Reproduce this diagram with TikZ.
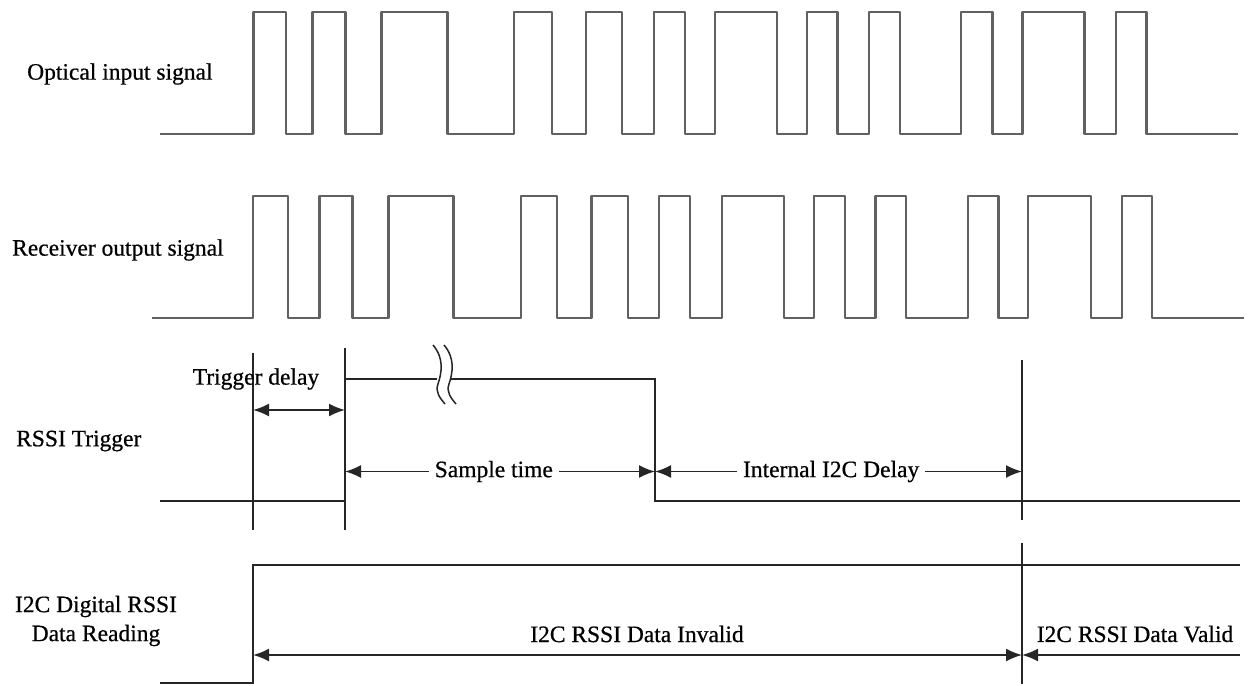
\documentclass[tikz,border=0pt]{standalone}
\usepackage{fontspec}
\setmainfont{Liberation Serif}[FakeBold=0.6]
\usetikzlibrary{arrows.meta}
\begin{document}
\begin{tikzpicture}[x=1pt,y=-1pt,
  wave/.style={draw=black!62, line width=2.4pt, line join=round},
  trig/.style={draw=black!85, line width=1.8pt},
  marker/.style={draw=black!85, line width=1.8pt},
  dim/.style={draw=black!85, line width=1.8pt, {Latex[length=16pt,width=13pt]}-{Latex[length=16pt,width=13pt]}},
  dimr/.style={draw=black!85, line width=1.8pt, -{Latex[length=16pt,width=13pt]}},
  lab/.style={font=\fontsize{23.5}{27}\selectfont, inner sep=0pt, text=black},
  gaplab/.style={font=\fontsize{23.5}{27}\selectfont, fill=white, inner xsep=6pt, inner ysep=2pt, text=black}
]
\useasboundingbox[fill=white] (0,0) rectangle (1249,685);

% labels
\node[lab, anchor=west] (lopt) at (27,74) {Optical input signal};
\node[lab, anchor=west] (lrec) at (12,250) {Receiver output signal};
\node[lab, anchor=west] (ltrg) at (16,441) {RSSI Trigger};
\node[lab, align=center] (li2c) at (96,621) {I2C Digital RSSI\\[2pt]Data Reading};

% optical input signal
\draw[wave] (160,134) -| (253.5,12) -| (286,134) -| (312.5,12) -| (345.5,134)
  -| (381.5,12) -| (447.5,134) -| (514,12) -| (552,134) -| (586,12) -| (622,134)
  -| (654,12) -| (685,134) -| (715,12) -| (777,134) -| (807,12) -| (837.5,134)
  -| (869,12) -| (900,134) -| (961,12) -| (992.5,134) -| (1022.5,12) -| (1084.5,134)
  -| (1116,12) -| (1146.5,134) -- (1238,134);

% receiver output signal
\draw[wave] (152,318) -| (253,196) -| (288,318) -| (319.5,196) -| (352.5,318)
  -| (388.5,196) -| (453.5,318) -| (521,196) -| (557,318) -| (591.5,196) -| (628,318)
  -| (659,196) -| (690,318) -| (722,196) -| (784,318) -| (814,196) -| (845,318)
  -| (875.5,196) -| (906,318) -| (968,196) -| (998.5,318) -| (1028,196) -| (1091,318)
  -| (1122,196) -| (1152,318) -- (1244,318);

% marker coordinates
\coordinate (m1t) at (253,353);  \coordinate (m1b) at (253,530);
\coordinate (m2t) at (345,348);  \coordinate (m2b) at (345,530);
\coordinate (m3t) at (1022,360); \coordinate (m3b) at (1022,520);
\coordinate (m4t) at (1022,543); \coordinate (m4b) at (1022,684);

% RSSI trigger waveform
\draw[trig] (160,501) -| (345,379) -- (437,379);
\draw[trig] (451,379) -| (655,501) -- (1240,501);
% break symbol
\draw[trig, line width=1.5pt] (433,345) .. controls (444,358) and (442,372) .. (438,384) .. controls (435,392) and (440,398) .. (445,404);
\draw[trig, line width=1.5pt] (444,345) .. controls (455,358) and (453,372) .. (449,384) .. controls (446,392) and (451,398) .. (456,404);

% vertical markers
\draw[marker] (m1t) -- (m1b);
\draw[marker] (m2t) -- (m2b);
\draw[marker] (m3t) -- (m3b);
\draw[marker] (m4t) -- (m4b);

% trigger delay
\node[lab] (ltd) at (256,379) {Trigger delay};
\coordinate (td1) at (253,410); \coordinate (td2) at (345,410);
\draw[dim] (td1) -- (td2);

% sample time / internal delay
\coordinate (st1) at (345,471.5); \coordinate (st2) at (655,471.5); \coordinate (st3) at (1022,471.5);
\draw[dim] (st1) -- node[gaplab, pos=0.48] (lst) {Sample time} (st2);
\draw[dim] (st2) -- node[gaplab, pos=0.48] (lid) {Internal I2C Delay} (st3);

% I2C digital RSSI data reading
\draw[trig] (160,683) -| (253,565) -- (1240,565);
\coordinate (iv1) at (253,655); \coordinate (iv2) at (1022,655); \coordinate (vr) at (1240,655);
\draw[dim] (iv1) -- (iv2);
\draw[dimr] (vr) -- (iv2);
\node[lab] (linv) at (637,634) {I2C RSSI Data Invalid};
\node[lab] (lval) at (1135,634) {I2C RSSI Data Valid};
\end{tikzpicture}
\end{document}
